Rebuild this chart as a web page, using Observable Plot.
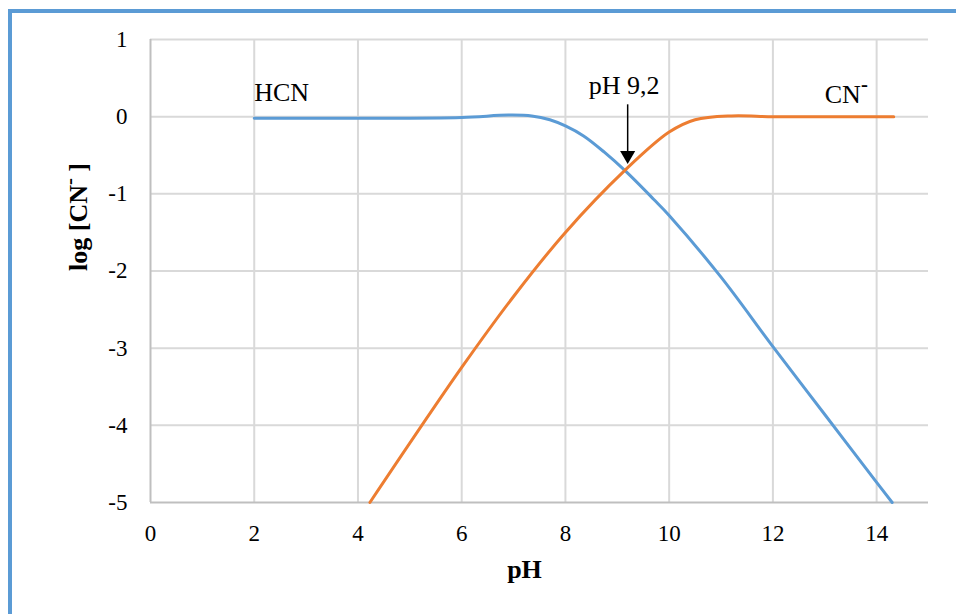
<!DOCTYPE html>
<html>
<head>
<meta charset="utf-8">
<script src="https://cdn.jsdelivr.net/npm/d3@7"></script>
<script src="https://cdn.jsdelivr.net/npm/@observablehq/plot@0.6"></script>
<style>
  html, body { margin: 0; padding: 0; background: #fff; }
  #wrap { position: relative; width: 956px; height: 614px; overflow: hidden; }
  #frame { position: absolute; left: 8px; top: 9px; width: 1000px; height: 700px;
           border-left: 4px solid #5b9bd5; border-top: 4px solid #5b9bd5; box-sizing: border-box; }
  #chart { position: absolute; left: 0; top: 0; }
  #chart text { font-family: 'Liberation Serif', 'Times New Roman', serif; }
</style>
</head>
<body>
<div id="wrap"><div id="frame"></div><div id="chart"></div></div>
<script>
// HCN (blue) series
const pHHCN  = [2, 4, 6, 6.9, 7.35, 7.7, 8.0, 8.35, 8.75, 9.15, 9.7, 10.0, 11.0, 12, 13, 14, 14.3];
const logHCN = [-0.02, -0.02, -0.01, 0.02, 0.01, -0.04, -0.12, -0.25, -0.46, -0.70, -1.07, -1.28, -2.08, -2.98, -3.86, -4.74, -5.0];
// CN- (orange) series
const pHCN   = [4.23, 6.0, 7.0, 8.0, 9.14, 10.0, 10.5, 11.2, 12, 13, 14.33];
const logCN  = [-5.0, -3.25, -2.33, -1.5, -0.70, -0.20, -0.04, 0.01, 0, 0, 0];
// ticks
const xTicks = [0, 2, 4, 6, 8, 10, 12, 14];
const yTicks = [-5, -4, -3, -2, -1, 0, 1];
// annotations
const labelText = ["HCN", "CN", "pH 9,2"];
const labelX    = [2, 13.0, 8.45];
const labelY    = [0.2, 0.18, 0.29];
const arrowX    = 9.2;
const arrowTop  = 0.16;
const arrowTip  = -0.5;

const hcn = pHHCN.map((x, i) => ({x, y: logHCN[i]}));
const cn  = pHCN.map((x, i) => ({x, y: logCN[i]}));
const labels = labelText.map((t, i) => ({t, x: labelX[i], y: labelY[i]}));

const serif = "'Liberation Serif', 'Times New Roman', serif";
const fmt = d => String(d);

const chart = Plot.plot({
  width: 956, height: 614,
  marginLeft: 150, marginRight: 28, marginTop: 39, marginBottom: 112,
  x: {domain: [0, 15]},
  y: {domain: [-5, 1]},
  style: {fontFamily: serif, fontSize: "23px", color: "#000", background: "transparent", overflow: "visible"},
  marks: [
    Plot.gridX(xTicks.filter(d => d > 0), {stroke: "#d9d9d9", strokeOpacity: 1, strokeWidth: 2}),
    Plot.gridY(yTicks.filter(d => d > -5), {stroke: "#d9d9d9", strokeOpacity: 1, strokeWidth: 2}),
    Plot.ruleX([0], {stroke: "#bfbfbf", strokeWidth: 2}),
    Plot.ruleY([-5], {stroke: "#bfbfbf", strokeWidth: 2}),
    Plot.axisX(xTicks, {tickSize: 0, tickPadding: 22, label: null, fontSize: 23, tickFormat: fmt, fontVariant: "normal"}),
    Plot.axisY(yTicks, {tickSize: 0, tickPadding: 23, label: null, fontSize: 23, tickFormat: fmt, fontVariant: "normal"}),
    Plot.line(hcn, {x: "x", y: "y", stroke: "#5b9bd5", strokeWidth: 3, curve: "catmull-rom"}),
    Plot.line(cn,  {x: "x", y: "y", stroke: "#ed7d31", strokeWidth: 3, curve: "catmull-rom"}),
    Plot.text(labels, {x: "x", y: "y", text: "t", textAnchor: "start", lineAnchor: "bottom", fontSize: 26, className: "ann"}),
    Plot.link([{x: arrowX}], {x1: "x", x2: "x", y1: () => arrowTop, y2: () => arrowTip, stroke: "#000", strokeWidth: 1.5}),
    Plot.dot([{x: arrowX}], {x: "x", y: () => arrowTip, symbol: "triangle", rotate: 180, r: 5.6, fill: "#000", stroke: "none"}),
    Plot.text(["pH"], {frameAnchor: "bottom", dx: -15, dy: 75, fontWeight: "bold", fontSize: 26}),
    Plot.text(["log [CN]"], {frameAnchor: "left", dx: -72, rotate: -90, fontWeight: "bold", fontSize: 26, className: "ylab"})
  ]
});

document.getElementById("chart").appendChild(chart);

// superscript minus signs
function addSup(sel) {
  d3.select(chart).selectAll(sel).each(function () {
    const t = d3.select(this);
    const s = t.text();
    if (s === "CN") {
      t.text(null);
      t.append("tspan").text("CN");
      t.append("tspan").attr("dy", "-0.55em").style("font-weight", "bold").style("font-size", "0.8em").text("-");
    } else if (s === "log [CN]") {
      t.text(null);
      t.append("tspan").text("log [CN");
      t.append("tspan").attr("dy", "-0.5em").style("font-size", "0.8em").style("font-weight", "bold").text("-");
      t.append("tspan").attr("dy", "0.4em").text(" ]");
    }
  });
}
addSup(".ann text");
addSup(".ylab text");
</script>
</body>
</html>
